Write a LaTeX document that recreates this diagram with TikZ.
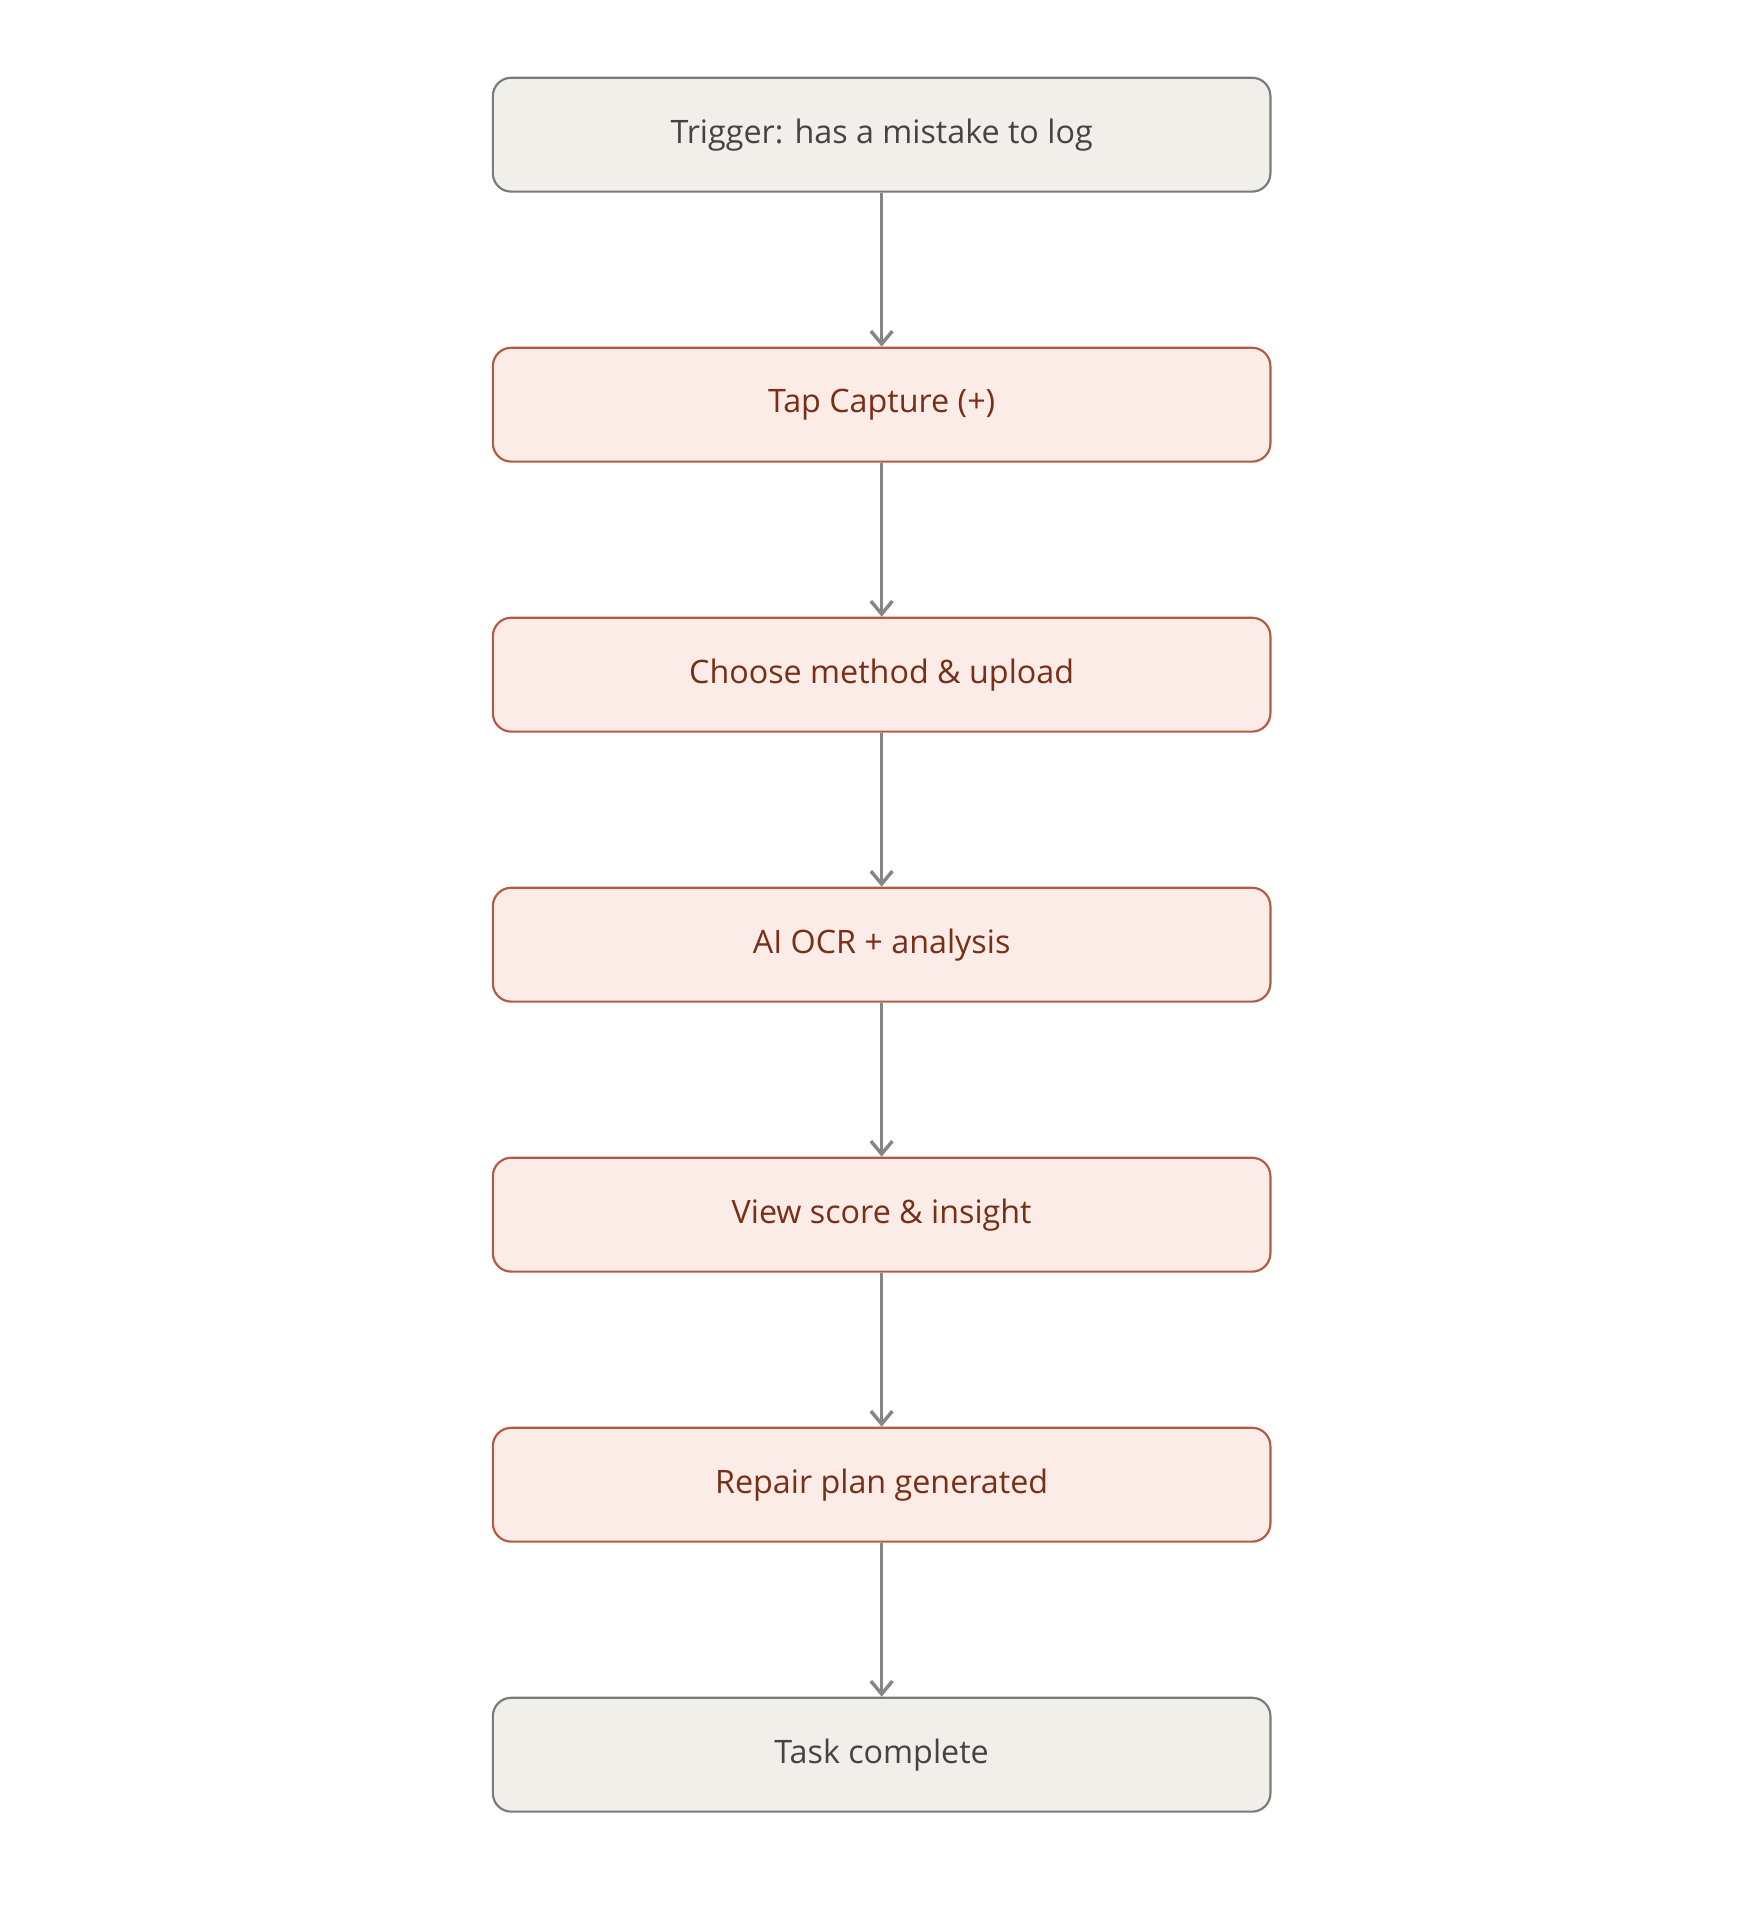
\documentclass[tikz,border=0pt]{standalone}
\usepackage{fontspec}
\setmainfont{Open Sans}
\usetikzlibrary{arrows.meta}
\definecolor{termfill}{HTML}{F0EFEA}
\definecolor{termline}{HTML}{7A7A7A}
\definecolor{termtext}{HTML}{444444}
\definecolor{stepfill}{HTML}{FBECE7}
\definecolor{stepline}{HTML}{B35A42}
\definecolor{steptext}{HTML}{7A2E15}
\definecolor{flow}{HTML}{868686}
\tikzset{
    box/.style={rounded corners=0.3cm, line width=1pt, minimum width=12.7cm,
        minimum height=1.86cm, font=\fontsize{15}{18}\selectfont},
    term/.style={box, fill=termfill, draw=termline, text=termtext},
    action/.style={box, fill=stepfill, draw=stepline, text=steptext},
    flowarrow/.style={-{Straight Barb[length=6pt,width=10pt]}, line width=1.6pt, flow}
}
\begin{document}
\begin{tikzpicture}
    \useasboundingbox (0,0) rectangle (28.8,-31.36);
    % boxes, top to bottom
    \foreach \name/\kind/\txt [count=\i from 0] in {
        trigger/term/{Trigger: has a mistake to log},
        capture/action/{Tap Capture (+)},
        upload/action/{Choose method \& upload},
        ocr/action/{AI OCR + analysis},
        score/action/{View score \& insight},
        plan/action/{Repair plan generated},
        done/term/{Task complete}}
    \node[\kind] (\name) at (14.4,-2.2-4.41*\i) {\txt};
    % connectors
    \foreach \a/\b in {trigger/capture,capture/upload,upload/ocr,ocr/score,score/plan,plan/done}
    \draw[flowarrow] (\a) -- (\b);
\end{tikzpicture}
\end{document}
